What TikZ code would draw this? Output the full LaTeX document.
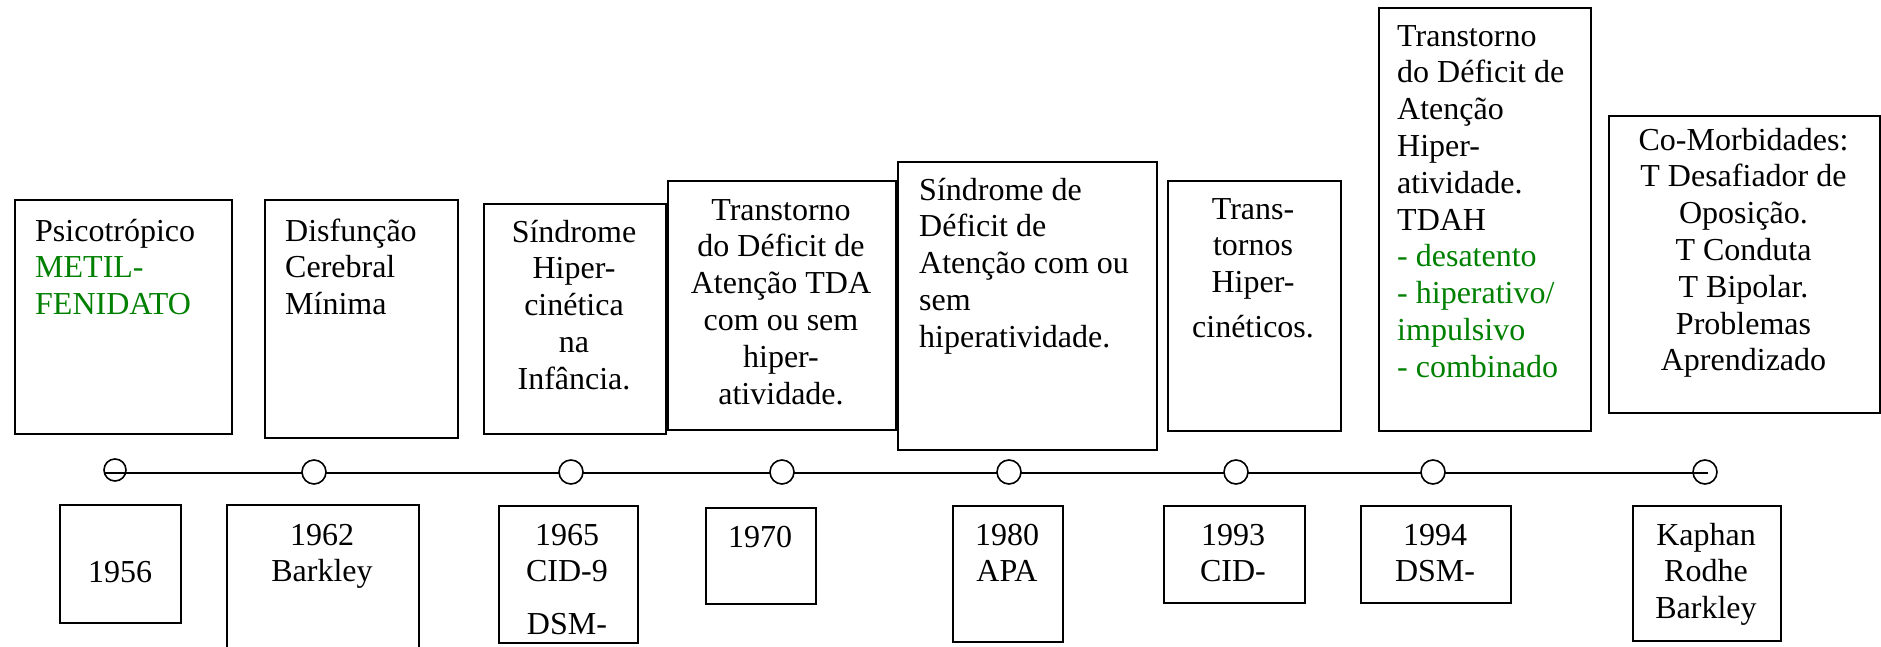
\documentclass[tikz,border=0pt]{standalone}
\usepackage{fontspec}
\setmainfont{Liberation Serif}
\definecolor{wgreen}{RGB}{0,128,0}
\newcommand{\tlfont}{\fontsize{32}{36.8}\selectfont}
\tikzset{
  bx/.style={draw, line width=1.8pt, inner sep=0pt, anchor=north west},
  tc/.style={inner sep=0pt, anchor=north, align=center, font=\tlfont},
  tl/.style={inner sep=0pt, anchor=north west, align=left, font=\tlfont},
  dotw/.style={circle, draw, line width=1.6pt, minimum size=24pt, inner sep=0pt, fill=white},
  doto/.style={circle, draw, line width=1.6pt, minimum size=22pt, inner sep=0pt},
  tline/.style={line width=1.8pt},
}
\begin{document}
\begin{tikzpicture}[x=1pt,y=-1pt]
\useasboundingbox (0,0) rectangle (1881,647);
% top boxes
\node[bx, minimum width=217pt, minimum height=234pt] (B1) at (14,199) {};
\node[bx, minimum width=193pt, minimum height=238pt] (B2) at (264,199) {};
\node[bx, minimum width=182pt, minimum height=230pt] (B3) at (483,203) {};
\node[bx, minimum width=228pt, minimum height=249pt] (B4) at (667,180) {};
\node[bx, minimum width=259pt, minimum height=288pt] (B5) at (897,161) {};
\node[bx, minimum width=173pt, minimum height=250pt] (B6) at (1167,180) {};
\node[bx, minimum width=212pt, minimum height=423pt] (B7) at (1378,7) {};
\node[bx, minimum width=271pt, minimum height=297pt] (B8) at (1608,115) {};
% top texts
\node[tl] (T1) at (35,215.2) {\strut Psicotrópico\\\textcolor{wgreen}{METIL-}\\\textcolor{wgreen}{FENIDATO}};
\node[tl] (T2) at (285,215.2) {\strut Disfunção\\Cerebral\\Mínima};
\node[tc] (T3) at (574,216.2) {\strut Síndrome\\Hiper-\\cinética\\na\\Infância.};
\node[tc] (T4) at (781,194.2) {\strut Transtorno\\do Déficit de\\Atenção TDA\\com ou sem\\hiper-\\atividade.};
\node[tl] (T5) at (919,174.2) {\strut Síndrome de\\Déficit de\\Atenção com ou\\sem\\hiperatividade.};
\node[tc] (T6) at (1253,193.2) {\strut Trans-\\tornos\\Hiper-\\[8pt]cinéticos.};
\node[tl] (T7) at (1397,20.2) {\strut Transtorno\\do Déficit de\\Atenção\\Hiper-\\atividade.\\TDAH\\\textcolor{wgreen}{- desatento}\\\textcolor{wgreen}{- hiperativo/}\\\textcolor{wgreen}{impulsivo}\\\textcolor{wgreen}{- combinado}};
\node[tc] (T8) at (1743.5,124.2) {\strut Co-Morbidades:\\T Desafiador de\\Oposição.\\T Conduta\\T Bipolar.\\Problemas\\Aprendizado};
% timeline
\coordinate (LS) at (104,473);
\coordinate (LE) at (1708,473);
\draw[tline] (LS) -- (LE);
\node[doto, minimum width=22pt, minimum height=20pt] (C1) at (115,470) {};
\node[dotw] (C2) at (314,472) {};
\node[dotw] (C3) at (571,472) {};
\node[dotw] (C4) at (782,472) {};
\node[dotw] (C5) at (1009,472) {};
\node[dotw] (C6) at (1236,472) {};
\node[dotw] (C7) at (1433,472) {};
\node[doto, minimum size=24pt] (C8) at (1705,472) {};
% bottom boxes
\node[bx, minimum width=121pt, minimum height=118pt] (D1) at (59,504) {};
\node[bx, minimum width=192pt, minimum height=150pt] (D2) at (226,504) {};
\node[bx, minimum width=139pt, minimum height=137pt] (D3) at (498,505) {};
\node[bx, minimum width=110pt, minimum height=96pt] (D4) at (705,507) {};
\node[bx, minimum width=110pt, minimum height=136pt] (D5) at (952,505) {};
\node[bx, minimum width=141pt, minimum height=97pt] (D6) at (1163,505) {};
\node[bx, minimum width=150pt, minimum height=97pt] (D7) at (1360,505) {};
\node[bx, minimum width=148pt, minimum height=135pt] (D8) at (1632,505) {};
% bottom texts
\node[tc] (E1) at (120,556.2) {\strut 1956};
\node[tc] (E2) at (322,519.2) {\strut 1962\\Barkley};
\node[tc] (E3) at (567,519.2) {\strut 1965\\CID-9\\[16pt]DSM-};
\node[tc] (E4) at (760,521.2) {\strut 1970};
\node[tc] (E5) at (1007,519.2) {\strut 1980\\APA};
\node[tc] (E6) at (1233,519.2) {\strut 1993\\CID-};
\node[tc] (E7) at (1435,519.2) {\strut 1994\\DSM-};
\node[tc] (E8) at (1706,519.2) {\strut Kaphan\\Rodhe\\Barkley};
\end{tikzpicture}
\end{document}
